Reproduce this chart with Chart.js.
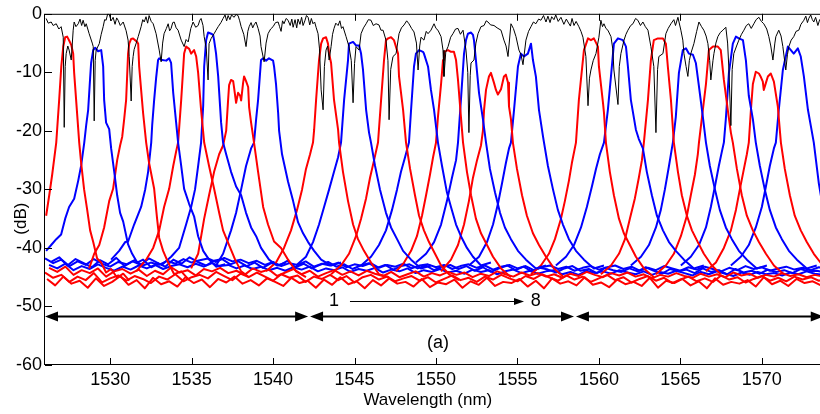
<!DOCTYPE html>
<html><head><meta charset="utf-8">
<script src="https://cdn.jsdelivr.net/npm/chart.js@4.4.1/dist/chart.umd.min.js"></script>
<style>html,body{margin:0;padding:0;overflow:hidden;background:#fff;}#wrap{width:830px;height:414px;}</style>
</head><body><div id="wrap"><canvas id="c" width="830" height="414"></canvas></div>
<script>
// ---- axes ----
const xTicks = [1530,1535,1540,1545,1550,1555,1560,1565,1570];
const yTicks = [0,-10,-20,-30,-40,-50,-60];

// ---- black curve (transmission spectrum), [wavelength nm, dB] pairs ----
const transmission = [1526.07,-0.8,1526.20,-1.6,1526.38,-1.4,1526.50,-2.0,1526.69,-1.7,1526.85,-2.6,1526.99,-2.2,1527.12,-4.0,1527.18,-19.4,1527.24,-9.0,1527.30,-6.8,1527.40,-5.5,1527.48,-6.2,1527.61,-7.9,1527.73,-2.8,1527.79,-1.4,1527.90,-2.2,1528.04,-1.7,1528.15,-0.9,1528.25,-2.0,1528.34,-1.1,1528.45,-2.2,1528.53,-1.7,1528.71,-3.4,1528.90,-5.0,1528.96,-5.6,1529.02,-18.3,1529.08,-8.0,1529.14,-6.2,1529.33,-5.1,1529.45,-3.5,1529.57,-2.2,1529.66,-1.0,1529.75,-1.1,1529.85,0,1529.94,-0.1,1530.06,-1.2,1530.18,-0.6,1530.30,-1.8,1530.40,-0.7,1530.49,-1.1,1530.62,-2.0,1530.80,-1.4,1530.98,-2.9,1531.10,-4.5,1531.17,-7.3,1531.29,-14.9,1531.35,-9.0,1531.41,-7.3,1531.47,-6.1,1531.60,-5.0,1531.72,-3.9,1531.90,-2.2,1532.00,-1.0,1532.09,-1.4,1532.20,-0.5,1532.30,-1.6,1532.39,-0.3,1532.52,-1.3,1532.64,-1.7,1532.82,-3.4,1533.01,-6.2,1533.13,-8.2,1533.22,-5.0,1533.31,-3.4,1533.45,-2.5,1533.56,-1.7,1533.65,-2.9,1533.74,-2.5,1533.84,-1.5,1533.93,-1.4,1534.05,-2.4,1534.17,-2.8,1534.36,-4.5,1534.54,-5.6,1534.66,-4.4,1534.79,-4.8,1534.95,-2.5,1535.09,-1.4,1535.25,-2.3,1535.40,-2.0,1535.50,-1.1,1535.58,-0.8,1535.70,-2.0,1535.77,-3.9,1535.90,-6.0,1536.01,-11.3,1536.07,-5.1,1536.20,-4.2,1536.38,-3.4,1536.50,-2.8,1536.63,-2.2,1536.80,-1.5,1536.93,-0.8,1537.05,-0.2,1537.15,-1.2,1537.24,-0.3,1537.35,-1.0,1537.45,-0.2,1537.61,-0.6,1537.72,-0.1,1537.85,-0.3,1537.95,-1.2,1538.04,-2.2,1538.20,-3.5,1538.34,-5.6,1538.45,-3.0,1538.53,-2.2,1538.65,-1.5,1538.75,-2.4,1538.83,-1.9,1538.95,-1.4,1539.08,-2.5,1539.20,-3.8,1539.26,-5.6,1539.45,-8.2,1539.57,-5.0,1539.69,-3.4,1539.85,-2.6,1540.00,-2.2,1540.15,-1.5,1540.31,-1.4,1540.40,-2.2,1540.49,-3.0,1540.58,-1.2,1540.67,-1.7,1540.80,-0.8,1540.92,-1.1,1541.05,-2.0,1541.15,-0.9,1541.23,-2.3,1541.35,-1.0,1541.45,-2.4,1541.53,-0.9,1541.65,-1.8,1541.75,-0.6,1541.84,-2.0,1541.95,-1.2,1542.05,-0.3,1542.15,-0.6,1542.25,-1.9,1542.35,-0.8,1542.45,-1.7,1542.55,-1.4,1542.64,-2.3,1542.76,-3.4,1542.85,-6.0,1542.95,-13.0,1543.07,-16.4,1543.15,-9.0,1543.25,-6.2,1543.35,-5.5,1543.44,-7.9,1543.56,-5.6,1543.65,-3.5,1543.74,-2.5,1543.85,-1.6,1543.99,-2.0,1544.10,-1.2,1544.20,-2.5,1544.29,-2.2,1544.48,-3.9,1544.66,-5.6,1544.80,-8.0,1544.91,-15.2,1545.00,-8.5,1545.09,-5.6,1545.28,-6.2,1545.40,-3.4,1545.55,-2.4,1545.71,-1.7,1545.85,-1.0,1546.01,-1.1,1546.15,-2.0,1546.32,-1.7,1546.50,-1.9,1546.62,-2.8,1546.75,-2.8,1546.93,-4.5,1547.05,-8.0,1547.12,-18.1,1547.22,-9.5,1547.36,-7.3,1547.55,-6.8,1547.73,-3.4,1547.88,-2.4,1548.04,-1.9,1548.20,-1.2,1548.34,-1.7,1548.50,-2.5,1548.65,-3.1,1548.80,-5.0,1548.90,-9.6,1549.00,-5.5,1549.08,-4.0,1549.26,-4.5,1549.40,-3.0,1549.51,-3.4,1549.69,-2.8,1549.88,-1.7,1550.00,-2.5,1550.12,-2.8,1550.31,-3.9,1550.43,-6.2,1550.49,-10.7,1550.60,-6.5,1550.74,-5.6,1550.90,-4.0,1551.04,-3.4,1551.20,-2.6,1551.35,-2.5,1551.50,-3.5,1551.66,-2.8,1551.84,-6.2,1551.95,-10.0,1552.02,-20.3,1552.10,-10.5,1552.15,-8.4,1552.33,-7.9,1552.45,-5.0,1552.58,-3.4,1552.76,-2.2,1552.95,-2.0,1553.08,-1.2,1553.19,-1.4,1553.35,-1.9,1553.56,-2.0,1553.75,-2.4,1553.99,-2.8,1554.17,-4.5,1554.30,-5.5,1554.42,-7.3,1554.60,-1.7,1554.75,-2.5,1554.91,-3.9,1555.09,-6.2,1555.22,-7.0,1555.34,-8.7,1555.52,-4.5,1555.68,-3.0,1555.83,-2.2,1555.98,-1.4,1556.13,-1.7,1556.30,-0.9,1556.44,-1.1,1556.60,-0.3,1556.75,-1.4,1556.87,-0.4,1557.00,-1.5,1557.10,-0.5,1557.24,-1.0,1557.35,-0.2,1557.50,-1.3,1557.67,-0.6,1557.85,-1.8,1558.00,-0.9,1558.10,-1.4,1558.25,-2.1,1558.35,-0.8,1558.47,-2.0,1558.60,-1.3,1558.77,-2.2,1558.90,-3.0,1559.02,-4.0,1559.20,-7.3,1559.33,-15.7,1559.42,-11.0,1559.51,-9.6,1559.65,-8.0,1559.82,-6.8,1560.00,-4.0,1560.12,-1.1,1560.22,-2.2,1560.31,-1.7,1560.43,-2.5,1560.55,-2.8,1560.74,-3.9,1560.85,-6.0,1560.92,-9.6,1561.17,-15.5,1561.25,-9.0,1561.35,-6.8,1561.54,-4.5,1561.66,-3.5,1561.78,-2.8,1561.95,-2.0,1562.09,-1.7,1562.25,-0.8,1562.39,-1.1,1562.55,-2.0,1562.70,-1.4,1562.85,-2.2,1563.01,-2.8,1563.19,-5.6,1563.37,-9.0,1563.50,-20.3,1563.60,-9.5,1563.68,-7.3,1563.93,-6.8,1564.11,-3.4,1564.25,-2.5,1564.42,-1.7,1564.60,-1.0,1564.70,-2.0,1564.85,-0.6,1565.03,-2.8,1565.15,-4.5,1565.22,-6.8,1565.35,-9.0,1565.46,-10.7,1565.55,-8.0,1565.64,-6.8,1565.83,-5.1,1566.00,-3.0,1566.14,-1.4,1566.30,-2.2,1566.44,-2.8,1566.58,-3.8,1566.69,-5.1,1566.80,-8.0,1566.87,-11.3,1567.00,-8.0,1567.06,-6.8,1567.18,-5.0,1567.30,-3.9,1567.45,-3.2,1567.61,-2.8,1567.79,-2.3,1567.90,-5.0,1567.98,-9.6,1568.10,-19.1,1568.18,-9.5,1568.28,-6.8,1568.45,-5.5,1568.59,-4.5,1568.75,-3.5,1568.90,-2.8,1569.05,-2.0,1569.20,-1.7,1569.35,-2.5,1569.51,-1.7,1569.65,-1.0,1569.82,-0.6,1569.97,-1.3,1570.12,-1.7,1570.30,-2.6,1570.43,-3.9,1570.55,-5.5,1570.68,-7.9,1570.80,-5.0,1570.86,-3.9,1571.04,-2.8,1571.18,-3.8,1571.29,-5.6,1571.47,-9.6,1571.57,-7.0,1571.66,-5.6,1571.80,-4.5,1571.96,-3.9,1572.10,-3.0,1572.27,-2.8,1572.40,-1.8,1572.58,-1.1,1572.70,-0.4,1572.80,-1.5,1572.88,-0.8,1573.00,-0.2,1573.10,-1.0,1573.19,-1.4,1573.30,-0.6,1573.44,-2.0,1573.55,-1.0,1573.74,-1.5,1573.90,-0.8];

// ---- 24 channel traces, [wavelength nm, dB] pairs (odd = red, even = blue) ----
const ch01 = [1526.07,-34.5,1526.26,-31,1526.44,-27.5,1526.69,-22,1526.87,-14.7,1527.00,-9,1527.12,-5.6,1527.24,-4.0,1527.36,-3.9,1527.49,-4.6,1527.61,-5.3,1527.73,-6.8,1527.79,-10.1,1527.98,-17.4,1528.10,-22,1528.22,-25.5,1528.40,-30,1528.59,-33.5,1528.77,-37,1528.96,-39,1529.20,-41.8,1529.45,-42.5,1529.75,-44.2,1530.06,-43.6,1530.43,-45.1,1530.80,-44.4,1531.17,-45.6];
const ch02 = [1526.07,-40.5,1526.38,-39.5,1526.69,-38.5,1526.99,-37.7,1527.24,-35,1527.48,-33,1527.79,-31.6,1528.04,-28.5,1528.22,-25.9,1528.41,-22,1528.53,-19,1528.65,-16.4,1528.77,-11,1528.83,-8.4,1528.96,-6.2,1529.08,-5.8,1529.26,-6.4,1529.45,-6.2,1529.57,-9,1529.63,-14.7,1529.75,-18.6,1529.94,-19.7,1530.06,-23,1530.25,-27,1530.43,-31,1530.61,-34,1530.80,-35.5,1531.10,-39.4,1531.35,-41,1531.66,-42.5,1532.02,-42,1532.52,-43.3,1533.01,-42.6];
const ch03 = [1528.71,-43.5,1529.02,-41,1529.33,-39.5,1529.63,-36.5,1529.94,-32,1530.18,-29.9,1530.43,-25,1530.61,-22.5,1530.74,-21,1530.86,-18,1530.98,-14.7,1531.10,-6.8,1531.17,-5.1,1531.29,-4.3,1531.41,-4.2,1531.53,-4.5,1531.66,-4.8,1531.72,-5.1,1531.78,-9,1531.90,-13,1532.02,-16.9,1532.21,-22,1532.39,-25.5,1532.70,-29.9,1532.88,-35,1533.01,-38.3,1533.25,-40.5,1533.56,-42.5,1533.93,-44.5,1534.36,-44,1534.85,-45.5];
const ch04 = [1530.06,-42,1530.55,-40.5,1530.92,-39,1531.10,-38.9,1531.47,-36,1531.90,-33,1532.15,-30,1532.33,-27,1532.52,-22,1532.58,-19,1532.70,-14.7,1532.82,-11,1532.94,-7.9,1533.01,-7.6,1533.19,-7.9,1533.44,-8.0,1533.62,-7.6,1533.74,-8.4,1533.87,-13.5,1534.05,-18.6,1534.17,-22,1534.36,-26,1534.54,-29.9,1534.85,-32.5,1535.15,-34.6,1535.40,-38,1535.71,-40.5,1536.07,-42,1536.50,-43.2,1537.06,-42.8];
const ch05 = [1531.60,-44,1532.21,-42,1532.64,-40,1533.01,-37,1533.31,-33,1533.62,-29.9,1533.87,-26,1534.05,-23.5,1534.17,-22,1534.36,-14.7,1534.54,-6.8,1534.66,-5.6,1534.85,-6.0,1534.97,-6.8,1535.15,-6.2,1535.28,-7.3,1535.40,-10.1,1535.58,-16.4,1535.77,-22,1536.07,-26,1536.38,-29.9,1536.69,-34,1536.93,-37,1537.30,-39.5,1537.67,-42,1538.04,-44,1538.53,-45];
const ch06 = [1533.13,-43,1533.74,-41.5,1534.23,-40,1534.66,-36,1534.97,-33,1535.21,-30,1535.40,-26,1535.58,-22,1535.71,-15.7,1535.77,-9,1535.89,-4.5,1536.01,-3.2,1536.20,-3.4,1536.32,-3.6,1536.38,-4.5,1536.50,-6.8,1536.63,-10.7,1536.81,-18.6,1536.93,-22,1537.12,-24,1537.42,-27,1537.73,-29.5,1538.04,-31,1538.34,-34,1538.65,-36.5,1538.96,-38,1539.26,-40,1539.75,-42,1540.25,-43,1540.80,-42.5];
const ch07 = [1534.97,-43.5,1535.40,-41,1535.77,-35,1536.07,-31,1536.38,-27,1536.69,-24,1536.93,-22.5,1537.12,-20,1537.24,-14.7,1537.30,-12.2,1537.42,-11.3,1537.55,-11.5,1537.61,-12.7,1537.73,-15.2,1537.85,-13.5,1537.98,-14,1538.04,-14.8,1538.16,-11.8,1538.22,-10.7,1538.34,-11.5,1538.47,-12.5,1538.53,-16,1538.65,-18.6,1538.83,-22,1539.08,-27,1539.39,-33,1539.69,-36,1540.06,-38.9,1540.49,-40,1540.92,-42,1541.41,-44,1542.02,-45];
const ch08 = [1536.50,-43,1536.93,-41,1537.42,-37,1537.73,-34,1538.04,-30,1538.34,-26,1538.65,-23,1538.83,-22,1538.96,-18,1539.08,-14.7,1539.26,-7.9,1539.39,-7.6,1539.57,-8,1539.75,-7.6,1540.00,-8.0,1540.06,-9,1540.18,-12,1540.31,-16.9,1540.37,-20,1540.55,-24,1540.92,-28.7,1541.23,-32,1541.53,-35.6,1541.84,-37.5,1542.15,-39,1542.52,-40.5,1542.95,-42,1543.56,-43,1544.17,-42.5];
const ch09 = [1539.57,-44,1540.18,-42.5,1540.67,-40,1541.10,-37,1541.47,-33.5,1541.78,-30,1542.02,-26.5,1542.27,-24,1542.45,-22,1542.52,-19.8,1542.64,-14.7,1542.82,-7.9,1542.95,-5.1,1543.07,-4.2,1543.25,-4.0,1543.37,-5.1,1543.44,-6.8,1543.56,-8.4,1543.74,-14.7,1543.99,-19.8,1544.05,-22,1544.29,-27,1544.60,-32,1544.91,-36,1545.21,-38.5,1545.58,-40.5,1546.01,-42.5,1546.50,-44.5,1547.12,-45];
const ch10 = [1541.41,-43,1542.02,-41.5,1542.45,-39,1542.82,-36,1543.13,-33,1543.44,-30,1543.74,-27,1543.99,-24.5,1544.17,-22,1544.36,-14.7,1544.60,-7.9,1544.66,-5.1,1544.91,-4.8,1545.09,-5.4,1545.28,-5.4,1545.40,-6.8,1545.52,-9.6,1545.71,-16.4,1545.89,-20.3,1546.01,-22,1546.26,-26,1546.56,-30,1546.93,-34,1547.24,-36.5,1547.61,-38.5,1547.98,-40.5,1548.47,-42,1549.08,-43.5,1549.69,-43];
const ch11 = [1543.56,-44.5,1544.17,-43,1544.66,-41,1545.09,-38,1545.40,-35,1545.71,-31.5,1545.95,-28,1546.20,-25,1546.44,-22,1546.63,-14.7,1546.81,-7.9,1546.93,-4.5,1547.06,-4.2,1547.24,-4.0,1547.42,-4.5,1547.67,-6.8,1547.73,-10.7,1547.98,-16.4,1548.16,-22,1548.41,-26.5,1548.71,-31,1548.96,-34.5,1549.26,-37,1549.57,-39,1549.94,-41,1550.31,-43,1550.80,-44.5,1551.41,-45.5];
const ch12 = [1545.40,-43,1546.01,-41.5,1546.50,-39.5,1546.93,-37,1547.30,-33.5,1547.61,-30,1547.85,-27,1548.10,-24.5,1548.34,-22,1548.47,-16.4,1548.65,-9,1548.77,-6.8,1548.96,-6.2,1549.20,-6.5,1549.26,-6.8,1549.51,-9,1549.69,-13,1549.88,-16.4,1550.12,-22,1550.37,-26,1550.67,-30.5,1550.92,-33,1551.23,-36,1551.53,-38,1551.90,-40,1552.27,-41.5,1552.76,-43,1553.37,-42.5];
const ch13 = [1547.55,-44,1548.04,-42.5,1548.47,-40.5,1548.83,-38,1549.14,-34.5,1549.39,-31,1549.63,-27.5,1549.82,-24.5,1550.00,-22,1550.12,-17.6,1550.31,-12,1550.43,-7.9,1550.49,-6.5,1550.74,-6.2,1550.92,-6.5,1551.10,-6.5,1551.23,-7.9,1551.35,-11.3,1551.53,-17.6,1551.66,-22,1551.90,-27,1552.15,-31,1552.45,-35,1552.76,-37.5,1553.13,-39.5,1553.50,-41.5,1553.99,-43.5,1554.60,-45];
const ch14 = [1548.77,-42.5,1549.39,-41,1549.88,-39,1550.31,-36,1550.67,-32,1550.98,-28,1551.23,-25,1551.35,-22,1551.53,-14.7,1551.72,-6.8,1551.84,-4.5,1551.96,-3.4,1552.15,-3.2,1552.27,-3.6,1552.33,-4.5,1552.45,-7.9,1552.64,-13.5,1552.88,-18,1553.07,-22,1553.31,-26.5,1553.62,-30.5,1553.93,-34,1554.23,-36.5,1554.60,-38.5,1555.03,-40.5,1555.52,-42,1556.13,-43.5,1556.75,-43];
const ch15 = [1550.31,-44,1550.92,-42,1551.35,-39.5,1551.72,-36,1552.02,-32,1552.27,-28,1552.52,-25,1552.76,-22.5,1552.88,-20,1552.95,-16.4,1553.07,-13,1553.25,-10.7,1553.37,-10.1,1553.56,-11.8,1553.68,-13,1553.80,-13.8,1553.99,-12.9,1554.17,-10.7,1554.29,-10.4,1554.42,-11.8,1554.48,-15.8,1554.60,-18,1554.72,-22,1554.97,-26.5,1555.28,-31,1555.58,-34.5,1555.95,-37.5,1556.32,-39.5,1556.75,-41.5,1557.24,-43.5,1557.85,-45];
const ch16 = [1552.02,-43,1552.64,-41.5,1553.13,-39,1553.50,-36,1553.80,-32.5,1554.05,-29,1554.29,-25.5,1554.48,-23,1554.60,-22,1554.79,-16.4,1555.03,-9,1555.21,-6.8,1555.40,-7.3,1555.64,-6.8,1555.83,-5.1,1555.95,-7.9,1556.13,-10.7,1556.32,-16.4,1556.57,-21,1556.63,-22,1556.87,-26,1557.18,-30,1557.48,-33.5,1557.79,-36,1558.16,-38.5,1558.59,-40.5,1559.08,-42,1559.69,-43.5,1560.31,-43];
const ch17 = [1555.83,-44.5,1556.44,-43,1556.93,-41,1557.30,-38.5,1557.67,-35,1557.91,-32,1558.16,-28.5,1558.34,-25.5,1558.59,-22,1558.77,-14.7,1559.08,-6.2,1559.33,-4.2,1559.51,-4.5,1559.69,-4.2,1559.94,-5.6,1560.00,-9,1560.25,-15.2,1560.31,-16.9,1560.43,-22,1560.67,-27,1560.92,-31,1561.23,-35,1561.53,-37.5,1561.90,-39.5,1562.27,-41.5,1562.76,-43.5,1563.37,-45];
const ch18 = [1557.36,-43,1557.98,-41.5,1558.47,-39.5,1558.90,-36.5,1559.26,-33,1559.57,-29.5,1559.82,-26.5,1560.06,-24,1560.31,-22,1560.55,-16.4,1560.74,-10.7,1560.92,-5.1,1561.17,-4.2,1561.47,-4.5,1561.66,-5.6,1561.78,-9,1561.96,-14.7,1562.27,-19.8,1562.45,-21.4,1562.70,-23,1562.94,-27,1563.25,-31,1563.56,-34.5,1563.93,-37,1564.30,-39,1564.72,-40.5,1565.22,-42,1565.83,-43.5,1566.44,-43];
const ch19 = [1560.12,-44.5,1560.74,-43,1561.23,-41,1561.60,-38.5,1561.90,-35,1562.21,-31.5,1562.45,-28,1562.64,-25,1562.76,-22,1563.01,-14.7,1563.19,-7.9,1563.37,-4.5,1563.62,-4.2,1563.93,-4.2,1564.11,-5.1,1564.23,-9,1564.42,-14.7,1564.60,-22,1564.85,-27,1565.09,-31,1565.40,-34.5,1565.71,-37,1566.07,-39,1566.44,-41,1566.93,-43,1567.48,-44.5];
const ch20 = [1561.96,-43,1562.58,-41.5,1563.07,-39.5,1563.50,-36.5,1563.80,-33.5,1564.05,-30,1564.30,-26,1564.48,-23,1564.54,-22,1564.72,-17.6,1564.91,-10.1,1565.15,-6.2,1565.34,-5.9,1565.52,-6.8,1565.77,-7.0,1565.95,-8.4,1566.14,-12.4,1566.38,-17.6,1566.57,-22,1566.81,-26,1567.12,-30,1567.42,-33.5,1567.79,-36.5,1568.16,-38.5,1568.59,-40.5,1569.08,-42,1569.69,-43.5,1570.31,-43];
const ch21 = [1563.50,-44.5,1564.11,-43,1564.60,-41,1565.03,-38,1565.40,-34.5,1565.64,-31,1565.89,-27.5,1566.07,-24,1566.14,-22,1566.38,-16.4,1566.57,-12,1566.75,-6.2,1567.00,-5.6,1567.30,-5.6,1567.48,-6.2,1567.67,-11.3,1567.91,-16.4,1568.10,-20.3,1568.22,-22,1568.47,-26.5,1568.77,-31,1569.08,-34.5,1569.45,-37,1569.82,-39,1570.25,-41,1570.74,-43,1571.35,-44.5];
const ch22 = [1565.03,-43,1565.64,-41.5,1566.14,-39.5,1566.57,-36.5,1566.87,-33,1567.12,-29.5,1567.36,-26,1567.55,-23.5,1567.67,-22,1567.79,-18,1567.98,-10.1,1568.22,-5.1,1568.41,-3.9,1568.59,-4.2,1568.84,-4.5,1569.02,-7.9,1569.20,-14,1569.45,-18,1569.63,-22,1569.88,-26,1570.18,-30,1570.49,-33.5,1570.86,-36.5,1571.23,-38.5,1571.66,-40.5,1572.15,-42,1572.76,-43.5,1573.37,-43];
const ch23 = [1566.57,-44,1567.18,-42.5,1567.67,-40,1568.10,-37,1568.41,-33.5,1568.65,-30,1568.90,-26.5,1569.08,-24,1569.20,-22,1569.33,-16.4,1569.45,-12,1569.63,-9.9,1569.82,-10.2,1569.94,-10.8,1570.06,-11.6,1570.12,-13,1570.25,-11.8,1570.37,-10.7,1570.55,-10.2,1570.74,-11.6,1570.98,-15.8,1571.17,-22,1571.41,-26.5,1571.72,-31,1572.02,-34.5,1572.39,-37,1572.76,-39,1573.19,-41,1573.74,-43];
const ch24 = [1568.10,-43,1568.71,-41.5,1569.20,-39.5,1569.63,-36.5,1570.00,-33,1570.25,-29.5,1570.49,-26,1570.74,-23,1570.86,-22,1571.04,-16.4,1571.29,-9.6,1571.60,-5.6,1571.78,-6.2,1571.96,-6.8,1572.21,-5.9,1572.39,-7.3,1572.58,-10.7,1572.83,-16.4,1573.01,-19.2,1573.19,-22,1573.50,-29,1573.74,-33,1574.0,-36];

// ---- noise floor traces, dB values every 0.5 nm ----
const floorStep = 0.5;
const redFloorStartA = 1526.0;
const redFloorA = [-44.2,-45.1,-44.6,-45.8,-44.9,-45.5,-44.3,-45.9,-45.2,-44.7,-45.6,-44.8,-45.3,-46.0,-44.9,-45.4,-44.5,-45.7,-45.0,-44.6,-45.2,-44.1,-44.8,-45.5,-44.4,-45.0,-44.2,-44.9,-45.6,-44.5,-45.1,-44.7,-45.8,-44.9,-45.3,-44.6,-45.5,-44.8,-45.9,-45.0,-44.6,-45.4,-44.9,-45.7,-45.2,-44.8,-45.6,-45.0,-45.9,-45.3,-44.7,-45.5,-45.1,-45.8,-44.9,-45.4,-44.6,-45.2,-45.7,-44.8,-45.3,-44.5,-45.1,-45.6,-44.7,-45.4,-44.9,-45.8,-45.2,-44.6,-45.5,-45.0,-45.9,-45.3,-44.8,-45.6,-45.1,-46.0,-45.4,-44.9,-45.7,-45.2,-45.8,-44.7,-45.4,-45.0,-45.9,-45.3,-44.8,-45.6,-45.1,-45.7,-44.9,-45.4,-45.0,-45.6,-45.2];
const redFloorStartB = 1526.25;
const redFloorB = [-43.4,-44.1,-43.2,-44.6,-43.8,-44.3,-43.5,-44.9,-44.0,-43.6,-44.4,-43.7,-44.8,-43.9,-44.5,-43.3,-44.2,-43.8,-44.7,-43.6,-44.0,-43.4,-44.3,-43.9,-44.6,-43.5,-44.1,-43.7,-44.8,-44.2,-43.6,-44.5,-43.9,-44.9,-44.3,-43.8,-44.6,-44.0,-44.7,-43.9,-44.4,-44.8,-44.1,-45.0,-44.5,-44.0,-44.9,-44.3,-44.7,-44.1,-44.6,-44.2,-45.0,-44.4,-44.8,-44.0,-44.5,-44.9,-44.2,-44.7,-44.3,-44.9,-44.5,-45.1,-44.4,-44.8,-44.1,-44.6,-45.0,-44.3,-44.7,-44.2,-44.9,-44.5,-45.2,-44.6,-44.9,-44.3,-44.8,-45.1,-44.4,-44.9,-44.5,-45.0,-44.2,-44.7,-44.4,-45.1,-44.6,-44.9,-44.3,-44.8,-44.5,-45.0,-44.6,-44.9];
const redFloorStartC = 1526.125;
const redFloorC = [-45.3,-46.4,-44.9,-46.1,-45.6,-46.8,-45.2,-46.5,-45.8,-44.8,-46.3,-45.5,-46.9,-45.1,-46.2,-45.7,-46.6,-45.0,-46.0,-45.4,-46.7,-45.3,-45.9,-44.9,-46.1,-45.5,-46.4,-45.2,-45.8,-46.5,-45.1,-46.0,-45.6,-46.8,-45.4,-46.3,-45.0,-46.2,-45.7,-46.9,-45.5,-46.4,-45.2,-46.1,-45.8,-46.6,-45.3,-46.7,-45.9,-46.2,-45.4,-46.8,-45.7,-46.3,-45.1,-46.5,-45.8,-46.0,-45.3,-46.6,-45.6,-46.9,-45.2,-46.1,-45.7,-46.4,-45.0,-46.3,-45.9,-46.7,-45.4,-46.2,-45.8,-46.5,-45.1,-46.8,-45.6,-46.0,-45.3,-46.4,-45.7,-46.9,-45.2,-46.3,-45.8,-46.1,-45.5,-46.6,-45.0,-46.2,-45.6,-46.5,-45.3,-46.0,-45.7,-46.4];
const blueFloorStartA = 1526.0;
const blueFloorA = [-41.8,-42.6,-42.0,-43.1,-42.3,-42.9,-41.9,-42.7,-43.2,-42.4,-42.8,-42.1,-43.0,-42.5,-42.9,-42.2,-42.7,-41.9,-42.5,-42.1,-41.8,-42.4,-41.7,-42.3,-42.0,-42.6,-42.2,-42.9,-42.4,-43.1,-42.6,-42.9,-42.3,-43.2,-42.7,-43.0,-42.5,-43.3,-42.8,-43.1,-42.6,-43.4,-42.9,-43.2,-42.7,-43.5,-43.0,-42.8,-43.3,-42.9,-43.6,-43.1,-42.8,-43.4,-43.0,-43.7,-43.2,-42.9,-43.5,-43.1,-43.8,-43.3,-43.0,-43.6,-43.2,-43.9,-43.4,-43.1,-43.7,-43.3,-43.0,-43.6,-43.2,-43.9,-43.4,-43.8,-43.1,-43.5,-43.9,-43.3,-43.7,-43.2,-43.6,-44.0,-43.4,-43.8,-43.1,-43.6,-43.3,-43.9,-43.5,-43.2,-43.7,-43.4,-43.8,-43.3,-43.6];
const blueFloorStartB = 1526.25;
const blueFloorB = [-42.9,-43.5,-42.7,-43.8,-43.1,-43.6,-42.8,-43.4,-43.9,-43.2,-43.7,-43.0,-43.5,-42.9,-43.6,-43.1,-42.8,-43.3,-42.7,-43.2,-42.6,-43.1,-42.9,-43.5,-43.0,-43.6,-43.2,-43.8,-43.4,-43.9,-43.3,-43.7,-43.2,-44.0,-43.5,-43.8,-43.3,-44.1,-43.6,-43.9,-43.4,-44.2,-43.7,-44.0,-43.5,-44.3,-43.8,-44.1,-43.6,-44.2,-43.9,-44.4,-43.7,-44.1,-43.8,-44.5,-44.0,-43.7,-44.3,-43.9,-44.4,-44.0,-43.8,-44.5,-44.1,-44.6,-43.9,-44.3,-44.0,-44.4,-43.8,-44.2,-44.5,-44.0,-44.6,-44.1,-44.4,-43.9,-44.3,-44.7,-44.1,-44.5,-44.0,-44.4,-44.8,-44.2,-44.6,-44.1,-44.5,-44.3,-44.7,-44.2,-44.5,-44.0,-44.4,-44.6];
const blueFloorStartC = 1526.375;
const blueFloorC = [-42.4,-41.6,-43.0,-41.9,-42.6,-43.3,-42.1,-42.8,-41.7,-43.1,-42.3,-42.9,-41.8,-42.5,-43.2,-42.0,-42.7,-41.6,-42.4,-43.0,-42.2,-41.9,-42.8,-42.3,-43.1,-42.5,-43.4,-42.6,-43.0,-42.2,-43.3,-42.7,-43.5,-42.9,-42.4,-43.2,-42.8,-43.6,-43.0,-42.6,-43.4,-42.9,-43.7,-43.1,-42.8,-43.5,-43.0,-43.8,-43.2,-42.9,-43.6,-43.1,-43.9,-43.3,-44.1,-43.5,-43.0,-43.8,-43.2,-44.0,-43.4,-43.7,-44.2,-43.5,-43.1,-43.9,-43.6,-44.3,-43.4,-43.8,-44.1,-43.5,-44.0,-43.3,-43.9,-44.4,-43.6,-44.0,-43.7,-44.3,-43.5,-44.1,-43.8,-44.5,-43.6,-44.2,-43.9,-44.4,-43.7,-44.1,-43.8,-44.3,-43.6,-44.0,-43.9,-44.2];

// ---- annotations (data units) ----
const bandSpans = [[1526.0,1542.15],[1542.27,1558.47],[1558.59,1573.8]];
const bandArrowLevel = -51.7;
const orderArrow = {from:1544.72, to:1555.40, level:-49.0};
const orderLabels = [{text:'1', x:1543.74, y:-49.0},{text:'8', x:1556.13, y:-49.0}];
const panelLabel = {text:'(a)', x:1550.12, y:-56.3};
const xTitle = {text:'Wavelength (nm)', x:1549.5};
const yTitle = {text:'(dB)', y:-35};

// ---- build ----
const FONT = '"Liberation Sans", Arial, Helvetica, sans-serif';
const RED = '#ff0000', BLUE = '#0000ff';
function pairs(a){ const out=[]; for(let i=0;i<a.length;i+=2) out.push({x:a[i],y:a[i+1]}); return out; }
function grid(start, vals){ return vals.map((v,i)=>({x:start+i*floorStep, y:v})); }

const channels = [ch01,ch02,ch03,ch04,ch05,ch06,ch07,ch08,ch09,ch10,ch11,ch12,ch13,ch14,ch15,ch16,ch17,ch18,ch19,ch20,ch21,ch22,ch23,ch24];
const datasets = [];
datasets.push({data:pairs(transmission), borderColor:'#000', borderWidth:1, order:0});
channels.forEach((c,i)=>datasets.push({data:pairs(c), borderColor: i%2===0?RED:BLUE, borderWidth:2, order:1}));
datasets.push({data:grid(redFloorStartA, redFloorA), borderColor:RED, borderWidth:2, order:2});
datasets.push({data:grid(blueFloorStartA, blueFloorA), borderColor:BLUE, borderWidth:2, order:2});
datasets.push({data:grid(redFloorStartC, redFloorC), borderColor:RED, borderWidth:2, order:2});
datasets.push({data:grid(redFloorStartB, redFloorB), borderColor:RED, borderWidth:2, order:2});
datasets.push({data:grid(blueFloorStartB, blueFloorB), borderColor:BLUE, borderWidth:2, order:2});
datasets.push({data:grid(blueFloorStartC, blueFloorC), borderColor:BLUE, borderWidth:2, order:2});
datasets.forEach(d=>{ d.pointRadius=0; d.tension=0; d.fill=false; d.borderJoinStyle='round'; });

function head(ctx, tx, ty, dir, len, half){
  ctx.beginPath(); ctx.moveTo(tx,ty); ctx.lineTo(tx-dir*len, ty-half); ctx.lineTo(tx-dir*len, ty+half); ctx.closePath(); ctx.fill();
}

const framePlugin = {
  id:'frame',
  afterDatasetsDraw(chart){
    const {ctx, chartArea:a, scales:{x,y}} = chart;
    ctx.save();
    ctx.strokeStyle='#000'; ctx.fillStyle='#000'; ctx.lineWidth=1;
    ctx.strokeRect(a.left-0.5, a.top+0.5, a.right-a.left, a.bottom-a.top-1);
    const L=7;
    ctx.beginPath();
    xTicks.forEach(v=>{ const px=Math.round(x.getPixelForValue(v))+0.5; ctx.moveTo(px,a.bottom); ctx.lineTo(px,a.bottom-L); ctx.moveTo(px,a.top); ctx.lineTo(px,a.top+L); });
    yTicks.forEach(v=>{ const py=Math.round(y.getPixelForValue(v))+0.5; ctx.moveTo(a.left,py); ctx.lineTo(a.left+L,py); ctx.moveTo(a.right,py); ctx.lineTo(a.right-L,py); });
    ctx.stroke();
    // band arrows
    ctx.lineWidth=2;
    bandSpans.forEach(([s,e])=>{
      const x1=x.getPixelForValue(s), x2=x.getPixelForValue(e), py=y.getPixelForValue(bandArrowLevel);
      ctx.beginPath(); ctx.moveTo(x1+8,py); ctx.lineTo(x2-8,py); ctx.stroke();
      head(ctx,x1,py,-1,13,5); head(ctx,x2,py,1,13,5);
    });
    // order arrow
    ctx.lineWidth=1;
    const ox1=x.getPixelForValue(orderArrow.from), ox2=x.getPixelForValue(orderArrow.to), oy=Math.round(y.getPixelForValue(orderArrow.level))+0.5;
    ctx.beginPath(); ctx.moveTo(ox1,oy); ctx.lineTo(ox2-6,oy); ctx.stroke();
    head(ctx,ox2,oy,1,10,3.5);
    // texts
    ctx.font='18px '+FONT; ctx.textAlign='center'; ctx.textBaseline='middle';
    orderLabels.forEach(l=>ctx.fillText(l.text, x.getPixelForValue(l.x), y.getPixelForValue(l.y)));
    ctx.fillText(panelLabel.text, x.getPixelForValue(panelLabel.x), y.getPixelForValue(panelLabel.y));
    ctx.font='17px '+FONT;
    ctx.fillText(xTitle.text, x.getPixelForValue(xTitle.x), a.bottom+35);
    ctx.translate(a.left-24, y.getPixelForValue(yTitle.y)); ctx.rotate(-Math.PI/2);
    ctx.fillText(yTitle.text, 0, 0);
    ctx.restore();
  }
};

new Chart(document.getElementById('c'), {
  type:'line',
  data:{datasets},
  options:{
    responsive:false, animation:false, devicePixelRatio:1,
    layout:{padding:{top:10,right:3,left:0,bottom:0}},
    plugins:{legend:{display:false}, tooltip:{enabled:false}},
    scales:{
      x:{type:'linear', min:1526, max:1574,
         afterBuildTicks:s=>{ s.ticks = xTicks.map(v=>({value:v})); },
         afterFit:s=>{ s.height=49; },
         grid:{display:false, drawTicks:false}, border:{display:false},
         ticks:{color:'#000', font:{size:18, family:FONT}, padding:4, maxRotation:0, autoSkip:false, callback:v=>String(v)}},
      y:{type:'linear', min:-60, max:0,
         afterBuildTicks:s=>{ s.ticks = yTicks.map(v=>({value:v})); },
         afterFit:s=>{ s.width=45; },
         grid:{display:false, drawTicks:false}, border:{display:false},
         ticks:{color:'#000', font:{size:18, family:FONT}, padding:3, callback:v=>String(v)}}
    }
  },
  plugins:[framePlugin]
});
</script>
</body></html>
